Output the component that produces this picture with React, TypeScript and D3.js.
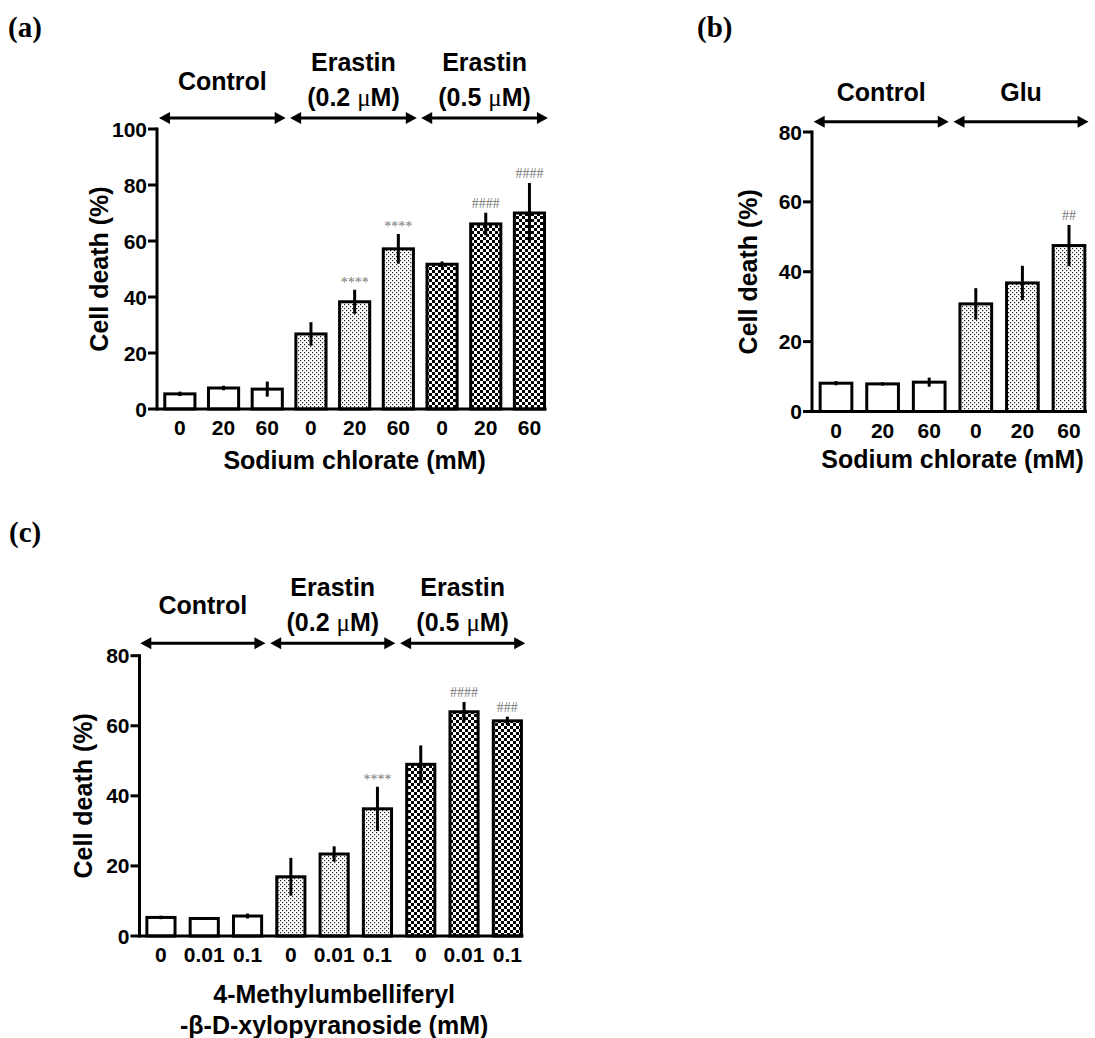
import React from "react";
import * as d3 from "d3";

// ---------- Panel (a) ----------
const catsA = ["0", "20", "60", "0", "20", "60", "0", "20", "60"];
const valuesA = [5.4, 7.5, 7.1, 26.8, 38.3, 57.2, 51.7, 66.1, 70.0];
const errorsA = [0.8, 0.8, 2.7, 4.2, 4.3, 5.3, 1.0, 4.0, 10.7];
const sigA = ["", "", "", "", "****", "****", "", "####", "####"];
const groupOfA = [0, 0, 0, 1, 1, 1, 2, 2, 2];
const groupLabelsA = [["Control"], ["Erastin", "(0.2 μM)"], ["Erastin", "(0.5 μM)"]];
const ticksA = [0, 20, 40, 60, 80, 100];

// ---------- Panel (b) ----------
const catsB = ["0", "20", "60", "0", "20", "60"];
const valuesB = [8.1, 7.9, 8.4, 30.8, 36.8, 47.5];
const errorsB = [0.6, 0.5, 1.3, 4.5, 4.9, 5.9];
const sigB = ["", "", "", "", "", "##"];
const groupOfB = [0, 0, 0, 1, 1, 1];
const groupLabelsB = [["Control"], ["Glu"]];
const ticksB = [0, 20, 40, 60, 80];

// ---------- Panel (c) ----------
const catsC = ["0", "0.01", "0.1", "0", "0.01", "0.1", "0", "0.01", "0.1"];
const valuesC = [5.3, 5.0, 5.7, 16.9, 23.4, 36.3, 49.0, 64.0, 61.4];
const errorsC = [0.5, 0.4, 0.7, 5.4, 2.2, 6.3, 5.4, 2.8, 1.2];
const sigC = ["", "", "", "", "", "****", "", "####", "###"];
const groupOfC = [0, 0, 0, 1, 1, 1, 2, 2, 2];
const groupLabelsC = [["Control"], ["Erastin", "(0.2 μM)"], ["Erastin", "(0.5 μM)"]];
const ticksC = [0, 20, 40, 60, 80];

const SANS = "'Liberation Sans', Arial, Helvetica, sans-serif";
const SERIF = "'Liberation Serif', 'Times New Roman', serif";
const fillForGroup = ["#ffffff", "url(#dots)", "url(#checker)"];

function LabelLine({ text }: { text: string }) {
  const parts = text.split("μ");
  if (parts.length === 1) return <>{text}</>;
  return (
    <>
      {parts[0]}
      <tspan fontFamily={SERIF} fontWeight="normal">μ</tspan>
      {parts[1]}
    </>
  );
}

type PanelProps = {
  cats: string[];
  values: number[];
  errors: number[];
  sig: string[];
  groupOf: number[];
  groupLabels: string[][];
  ticks: number[];
  yMax: number;
  axisX: number;
  x0: number;
  x1: number;
  pad: number;
  y0: number;
  yTop: number;
  arrowY: number;
  singleOffset: number;
  titleX: number;
  xTitle: string[];
  xTitleY: number;
};

function Panel(p: PanelProps) {
  const n = p.cats.length;
  const x = d3
    .scaleBand<number>()
    .domain(d3.range(n))
    .range([p.x0, p.x1])
    .paddingInner(p.pad)
    .paddingOuter(p.pad / 2);
  const y = d3.scaleLinear().domain([0, p.yMax]).range([p.y0, p.yTop]);
  const bw = x.bandwidth();
  const step = x.step();
  const cx = (i: number) => (x(i) as number) + bw / 2;
  const lastRight = (x(n - 1) as number) + bw + 2;
  const groups = d3.groups(d3.range(n), (i) => p.groupOf[i]);
  const titleY = (p.y0 + p.yTop) / 2;
  const midX = (p.x0 + p.x1) / 2;

  return (
    <g>
      {p.values.map((v, i) => (
        <rect
          key={"b" + i}
          x={x(i)}
          y={y(v)}
          width={bw}
          height={p.y0 - y(v)}
          fill={fillForGroup[p.groupOf[i]]}
          stroke="#000"
          strokeWidth={3}
        />
      ))}
      {p.values.map((v, i) => (
        <line
          key={"e" + i}
          x1={cx(i)}
          x2={cx(i)}
          y1={y(v + p.errors[i])}
          y2={y(v - p.errors[i])}
          stroke="#000"
          strokeWidth={3}
        />
      ))}
      {p.sig.map((s, i) =>
        s ? (
          <text
            key={"s" + i}
            x={cx(i)}
            y={y(p.values[i] + p.errors[i]) - (s[0] === "*" ? 3 : 5)}
            textAnchor="middle"
            fontFamily={SERIF}
            fontSize={14}
            fill="#777"
          >
            {s}
          </text>
        ) : null
      )}
      <line x1={p.axisX} x2={p.axisX} y1={p.yTop - 1.5} y2={p.y0 + 1.5} stroke="#000" strokeWidth={3} />
      {p.ticks.map((t) => (
        <g key={"t" + t}>
          <line x1={p.axisX - 9} x2={p.axisX} y1={y(t)} y2={y(t)} stroke="#000" strokeWidth={3} />
          <text
            x={p.axisX - 10}
            y={y(t) + 7.5}
            textAnchor="end"
            fontFamily={SANS}
            fontWeight="bold"
            fontSize={21}
          >
            {t}
          </text>
        </g>
      ))}
      <line x1={p.axisX} x2={lastRight} y1={p.y0} y2={p.y0} stroke="#000" strokeWidth={3} />
      {p.cats.map((c, i) => (
        <text
          key={"c" + i}
          x={cx(i)}
          y={p.y0 + 26}
          textAnchor="middle"
          fontFamily={SANS}
          fontWeight="bold"
          fontSize={21}
        >
          {c}
        </text>
      ))}
      <text
        transform={`translate(${p.titleX},${titleY}) rotate(-90)`}
        textAnchor="middle"
        fontFamily={SANS}
        fontWeight="bold"
        fontSize={25}
      >
        Cell death (%)
      </text>
      {p.xTitle.map((t, k) => (
        <text
          key={"xt" + k}
          x={midX}
          y={p.xTitleY + k * 31}
          textAnchor="middle"
          fontFamily={SANS}
          fontWeight="bold"
          fontSize={25}
        >
          {t}
        </text>
      ))}
      {groups.map(([g, idx]) => {
        const first = idx[0];
        const last = idx[idx.length - 1];
        const a = cx(first) - step / 2 + 1;
        const b = cx(last) + (bw / 2 + step / 2) / 2;
        const ay = p.arrowY;
        const hl = 11;
        const hh = 6;
        const mid = (a + b) / 2;
        const lines = p.groupLabels[g];
        return (
          <g key={"g" + g}>
            <line x1={a + hl - 1} x2={b - hl + 1} y1={ay} y2={ay} stroke="#000" strokeWidth={3} />
            <path d={`M${a},${ay} L${a + hl},${ay - hh} L${a + hl},${ay + hh} Z`} fill="#000" />
            <path d={`M${b},${ay} L${b - hl},${ay - hh} L${b - hl},${ay + hh} Z`} fill="#000" />
            {lines.length === 1 ? (
              <text
                x={mid}
                y={ay - p.singleOffset}
                textAnchor="middle"
                fontFamily={SANS}
                fontWeight="bold"
                fontSize={25}
              >
                <LabelLine text={lines[0]} />
              </text>
            ) : (
              lines.map((l, k) => (
                <text
                  key={k}
                  x={mid}
                  y={ay - 47 + k * 35}
                  textAnchor="middle"
                  fontFamily={SANS}
                  fontWeight="bold"
                  fontSize={25}
                >
                  <LabelLine text={l} />
                </text>
              ))
            )}
          </g>
        );
      })}
    </g>
  );
}

export default function App() {
  return (
    <svg
      width={1095}
      height={1038}
      viewBox="0 0 1095 1038"
      style={{ position: "absolute", left: 0, top: 0, display: "block", background: "#fff" }}
    >
      <defs>
        <pattern id="dots" width={4} height={4} patternUnits="userSpaceOnUse">
          <rect width={4} height={4} fill="#fff" />
          <rect x={0} y={0} width={1.2} height={1.2} fill="#222" />
          <rect x={2} y={2} width={1.2} height={1.2} fill="#222" />
        </pattern>
        <pattern id="checker" width={6} height={6} patternUnits="userSpaceOnUse">
          <rect width={6} height={6} fill="#fff" />
          <rect x={0} y={0} width={3} height={3} fill="#000" />
          <rect x={3} y={3} width={3} height={3} fill="#000" />
        </pattern>
      </defs>
      <rect width={1095} height={1038} fill="#fff" />

      <text x={8} y={37} fontFamily={SERIF} fontWeight="bold" fontSize={29}>(a)</text>
      <text x={697} y={37} fontFamily={SERIF} fontWeight="bold" fontSize={29}>(b)</text>
      <text x={9} y={542} fontFamily={SERIF} fontWeight="bold" fontSize={29}>(c)</text>

      <Panel
        cats={catsA}
        values={valuesA}
        errors={errorsA}
        sig={sigA}
        groupOf={groupOfA}
        groupLabels={groupLabelsA}
        ticks={ticksA}
        yMax={100}
        axisX={157}
        x0={158}
        x1={551.3}
        pad={0.31}
        y0={409}
        yTop={129}
        arrowY={118}
        singleOffset={28}
        titleX={108}
        xTitle={["Sodium chlorate (mM)"]}
        xTitleY={469}
      />
      <Panel
        cats={catsB}
        values={valuesB}
        errors={errorsB}
        sig={sigB}
        groupOf={groupOfB}
        groupLabels={groupLabelsB}
        ticks={ticksB}
        yMax={80}
        axisX={812}
        x0={812.7}
        x1={1092.3}
        pad={0.32}
        y0={411.5}
        yTop={132}
        arrowY={121.7}
        singleOffset={21}
        titleX={757}
        xTitle={["Sodium chlorate (mM)"]}
        xTitleY={468}
      />
      <Panel
        cats={catsC}
        values={valuesC}
        errors={errorsC}
        sig={sigC}
        groupOf={groupOfC}
        groupLabels={groupLabelsC}
        ticks={ticksC}
        yMax={80}
        axisX={139.5}
        x0={139.3}
        x1={529}
        pad={0.35}
        y0={936}
        yTop={655.7}
        arrowY={643.3}
        singleOffset={29}
        titleX={92}
        xTitle={["4-Methylumbelliferyl", "-β-D-xylopyranoside (mM)"]}
        xTitleY={1003}
      />
    </svg>
  );
}
